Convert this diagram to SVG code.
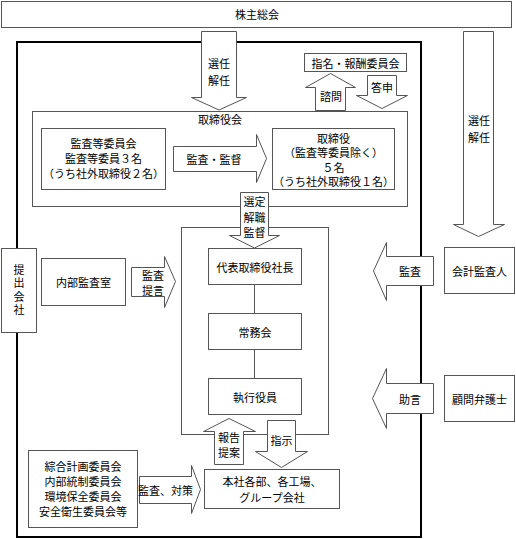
<svg xmlns="http://www.w3.org/2000/svg" width="516" height="539" viewBox="0 0 516 539">
<style>
.box{fill:#fff;stroke:#555;stroke-width:1}
.frame{fill:none;stroke:#000;stroke-width:2}
.inner{fill:none;stroke:#555;stroke-width:1}
.arr{fill:#fff;stroke:#555;stroke-width:1;stroke-linejoin:miter}
.ln{stroke:#555;stroke-width:1;fill:none}
text{font-family:"Noto Sans CJK JP","Noto Sans CJK SC",sans-serif;font-size:11px;fill:#000;text-anchor:middle;dominant-baseline:central}
.vt{writing-mode:vertical-rl;letter-spacing:2.5px}
</style>
<rect width="516" height="539" fill="#fff"/>
<g id="frame-company"><rect class="frame" x="17" y="42" width="404" height="495"/></g>
<g id="frame-exec"><rect class="inner" x="181.5" y="227.5" width="147" height="207"/></g>

<g id="shareholders"><rect class="box" x="1.5" y="1.5" width="510" height="26"/><text x="257" y="14">株主総会</text></g>
<g id="nomination"><rect class="box" x="304.5" y="53.5" width="102" height="18"/><text x="355.5" y="62.5">指名・報酬委員会</text></g>
<g id="board"><rect class="box" x="32.5" y="111.5" width="375" height="95"/><text x="220" y="119">取締役会</text></g>
<g id="audit-committee"><rect class="box" x="41.5" y="128.5" width="124" height="61"/>
<text x="103.5" y="143">監査等委員会</text><text x="103.5" y="158">監査等委員３名</text><text x="103.5" y="173">（うち社外取締役２名）</text></g>
<g id="directors"><rect class="box" x="272.5" y="128.5" width="122" height="61"/>
<text x="333.5" y="137.5">取締役</text><text x="333.5" y="152">（監査等委員除く）</text><text x="333.5" y="166.5">５名</text><text x="333.5" y="181">（うち社外取締役１名）</text></g>
<g id="president"><rect class="box" x="208.5" y="248.5" width="93" height="36"/><text x="255" y="266.5">代表取締役社長</text></g>
<g id="managing"><rect class="box" x="208.5" y="313.5" width="93" height="36"/><text x="255" y="331.5">常務会</text></g>
<g id="officers"><rect class="box" x="208.5" y="378.5" width="93" height="36"/><text x="255" y="396.5">執行役員</text></g>
<g id="company"><rect class="box" x="1.5" y="248.5" width="35" height="84"/>
<text class="vt" x="19" y="291">提出会社</text></g>
<g id="internal-audit"><rect class="box" x="41.5" y="258.5" width="84" height="47"/><text x="83.5" y="282">内部監査室</text></g>
<g id="accounting-auditor"><rect class="box" x="444.5" y="247.5" width="70" height="46"/><text x="479.5" y="270.5">会計監査人</text></g>
<g id="lawyer"><rect class="box" x="444.5" y="375.5" width="70" height="46"/><text x="479.5" y="398.5">顧問弁護士</text></g>
<g id="departments"><rect class="box" x="204.5" y="469.5" width="135" height="39"/>
<text x="272" y="481">本社各部、各工場、</text><text x="272" y="497">グループ会社</text></g>
<g id="committees"><rect class="box" x="28.5" y="450.5" width="109" height="77"/>
<text x="83" y="466">綜合計画委員会</text><text x="83" y="481">内部統制委員会</text><text x="83" y="496">環境保全委員会</text><text x="83" y="511">安全衛生委員会等</text></g>

<g id="connectors">
<path class="ln" d="M254.5 284.5V313.5M254.5 349.5V378.5"/>
<polygon class="arr" points="201.5,31.5 236.5,31.5 236.5,97.5 246.5,97.5 219,110 191.5,97.5 201.5,97.5"/>
<text x="219" y="63">選任</text><text x="219" y="80">解任</text>
<polygon class="arr" points="315.5,110.5 345.5,110.5 345.5,87.5 355.5,87.5 330.5,73.5 305.5,87.5 315.5,87.5"/>
<text x="331" y="96">諮問</text>
<polygon class="arr" points="367.5,75.5 396.5,75.5 396.5,95.5 407.5,95.5 382,108.5 356.5,95.5 367.5,95.5"/>
<text x="382" y="87">答申</text>
<polygon class="arr" points="463.5,31.5 493.5,31.5 493.5,224.5 504.5,224.5 478.5,236.5 453.5,224.5 463.5,224.5"/>
<text x="479" y="120">選任</text><text x="479" y="137">解任</text>
<polygon class="arr" points="173.5,146.5 256.5,146.5 256.5,134.5 266.5,158.5 256.5,182.5 256.5,171.5 173.5,171.5"/>
<text x="214" y="159">監査・監督</text>
<polygon class="arr" points="240.5,192.5 268.5,192.5 268.5,235.5 279.5,235.5 254.5,248 229.5,235.5 240.5,235.5"/>
<text x="254.5" y="201">選定</text><text x="254.5" y="216.5">解職</text><text x="254.5" y="232">監督</text>
<polygon class="arr" points="131.5,267.5 164.5,267.5 164.5,256.5 175.5,281.5 164.5,307.5 164.5,296.5 131.5,296.5"/>
<text x="153" y="274.5">監査</text><text x="153" y="289.5">提言</text>
<polygon class="arr" points="433.5,256.5 386.5,256.5 386.5,242.5 373.5,271 386.5,300.5 386.5,285.5 433.5,285.5"/>
<text x="410" y="271">監査</text>
<polygon class="arr" points="433.5,383.5 386.5,383.5 386.5,368.5 372.5,398.5 386.5,428.5 386.5,413.5 433.5,413.5"/>
<text x="410" y="398.5">助言</text>
<polygon class="arr" points="214.5,464.5 243.5,464.5 243.5,431.5 255.5,431.5 229,418.5 203.5,431.5 214.5,431.5"/>
<text x="229" y="436.5">報告</text><text x="229" y="451.5">提案</text>
<polygon class="arr" points="267.5,420.5 295.5,420.5 295.5,451.5 307.5,451.5 281.5,467.5 255.5,451.5 267.5,451.5"/>
<text x="281.5" y="440">指示</text>
<polygon class="arr" points="139.5,476.5 191.5,476.5 191.5,465.5 200.5,489.5 191.5,513.5 191.5,503.5 139.5,503.5"/>
<text x="165.5" y="490">監査、対策</text>
</g>
</svg>
